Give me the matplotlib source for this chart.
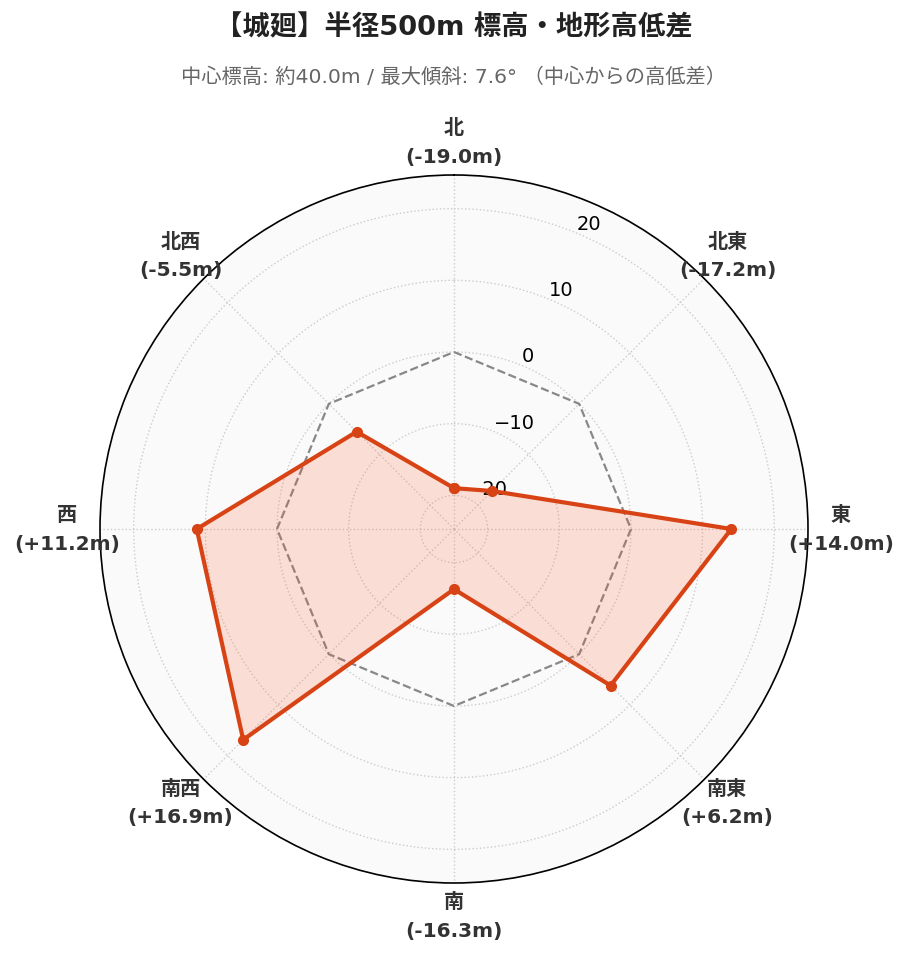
import numpy as np
import matplotlib.pyplot as plt

# Data
# ----
directions = ['北', '北東', '東', '南東', '南', '南西', '西', '北西']
diffs = [-19.0, -17.2, 14.0, 6.2, -16.3, 16.9, 11.2, -5.5]
rticks = [-20, -10, 0, 10, 20]

title = '【城廻】半径500m 標高・地形高低差'
subtitle = '中心標高: 約40.0m / 最大傾斜: 7.6° （中心からの高低差）'

plt.rcParams['font.family'] = ['DejaVu Sans', 'Noto Sans CJK JP']

def createPlot():
    n = len(directions)
    theta = np.arange(n) * 2 * np.pi / n
    theta_c = np.append(theta, theta[0])
    vals = np.append(diffs, diffs[0])
    rlim = max(abs(v) for v in diffs) * 1.3

    fig = plt.figure(figsize=(9.07, 9.62), dpi=100)
    ax = fig.add_axes([100 / 907, 78 / 962, 708 / 907, 708 / 962], projection='polar')
    ax.set_theta_zero_location('N')
    ax.set_theta_direction(-1)
    ax.set_facecolor('#fafafa')
    ax.set_ylim(-rlim, rlim)

    # zero reference
    ax.plot(theta_c, np.zeros_like(theta_c), color='#888888', linestyle='dashed', linewidth=1.6, zorder=2)

    ax.fill(theta_c, vals, color='#ff5722', alpha=0.17, linewidth=0, zorder=3)
    ax.plot(theta_c, vals, color='#d84315', linewidth=3, marker='o', markersize=7, zorder=4)

    ax.set_xticks(theta)
    ax.set_xticklabels([])
    ax.set_yticks(rticks)
    ax.set_yticklabels(['\u221220', '\u221210', '0', '10', '20'], fontsize=14)
    ax.set_rlabel_position(22.5)
    ax.grid(True, color='#cccccc', linestyle=':', linewidth=1)
    ax.spines['polar'].set_color('black')
    ax.spines['polar'].set_linewidth(1.2)

    for t, d, v in zip(theta, directions, diffs):
        ax.text(t, rlim * 1.185, '%s\n(%+.1fm)' % (d, v), ha='center', va='center',
                fontsize=14.5, fontweight='bold', color='#333333', linespacing=1.65,
                clip_on=False)

    fig.text(0.5, 1 - 28 / 962, title, ha='center', va='center', fontsize=19.7,
             fontweight='bold', color='#222222')
    fig.text(0.5, 1 - 77 / 962, subtitle, ha='center', va='center', fontsize=14.6,
             color='#666666')

    plt.savefig('out.png', dpi=100)

if __name__ == "__main__":
    createPlot()
